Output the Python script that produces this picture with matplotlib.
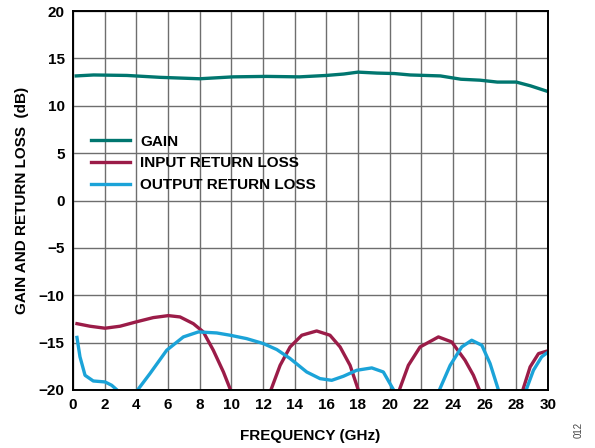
import numpy as np
import matplotlib.pyplot as plt

plt.rcParams['font.family'] = ['Liberation Sans', 'DejaVu Sans']

# Gain (dB) vs frequency (GHz)
gain_freq = [0.2, 1.3, 3.4, 5.5, 8.0, 10.1, 12.2, 14.3, 16.0, 17.1, 18.0, 19.2,
             20.3, 21.3, 23.2, 24.5, 25.7, 26.8, 28.0, 28.9, 30.0]
gain_db = [13.15, 13.25, 13.2, 13.0, 12.85, 13.05, 13.1, 13.05, 13.2, 13.35, 13.55, 13.45,
           13.4, 13.25, 13.15, 12.8, 12.7, 12.5, 12.5, 12.1, 11.5]

# Input return loss (dB), NaN separates the segments clipped at -20 dB
irl_freq = [0.25, 1.07, 2.02, 2.97, 4.02, 5.07, 6.02, 6.76, 7.6, 8.23, 8.86, 9.5, 9.95, 10.05,
            np.nan,
            12.45, 12.5, 13.08, 13.71, 14.45, 15.39, 16.23, 16.87, 17.5, 18.02, 18.08,
            np.nan,
            20.55, 20.61, 21.18, 21.92, 23.08, 23.92, 24.76, 25.29, 25.67, 25.72,
            np.nan,
            28.36, 28.41, 28.87, 29.4, 29.92, 30.0]
irl_db = [-13.0, -13.27, -13.48, -13.27, -12.8, -12.36, -12.15, -12.29, -13.0, -13.87, -15.8, -18.1, -20.0, -20.4,
          np.nan,
          -20.4, -20.0, -17.4, -15.46, -14.22, -13.77, -14.22, -15.46, -17.4, -20.0, -20.4,
          np.nan,
          -20.4, -20.0, -17.4, -15.46, -14.4, -14.93, -16.86, -18.45, -20.0, -20.4,
          np.nan,
          -20.4, -20.0, -17.57, -16.16, -15.9, -15.9]

# Output return loss (dB)
orl_freq = [0.25, 0.44, 0.76, 1.28, 2.02, 2.44, 2.78, 2.85,
            np.nan,
            4.0, 4.08, 4.86, 5.92, 6.97, 7.92, 9.08, 9.92, 10.97, 12.02, 12.87, 13.71,
            14.76, 15.6, 16.34, 17.08, 17.92, 18.87, 19.6, 20.25, 20.33,
            np.nan,
            23.08, 23.14, 23.82, 24.55, 25.18, 25.82, 26.34, 26.87, 26.93,
            np.nan,
            28.56, 28.62, 29.08, 29.6, 29.92, 30.0]
orl_db = [-14.45, -16.5, -18.45, -19.05, -19.15, -19.5, -20.0, -20.4,
          np.nan,
          -20.4, -20.0, -18.27, -15.8, -14.4, -13.87, -13.98, -14.22, -14.58, -15.1, -15.73, -16.68,
          -18.1, -18.8, -18.98, -18.55, -17.92, -17.67, -18.1, -20.0, -20.4,
          np.nan,
          -20.4, -20.0, -17.4, -15.46, -14.75, -15.28, -17.2, -20.0, -20.4,
          np.nan,
          -20.4, -20.0, -17.92, -16.5, -16.1, -16.05]

fig = plt.figure(figsize=(5.95, 4.48), dpi=100)
ax = fig.add_axes([0.1227, 0.1295, 0.7983, 0.8459])

ax.plot(gain_freq, gain_db, color='#00766f', lw=2.4, label='GAIN')
ax.plot(irl_freq, irl_db, color='#9b1c48', lw=2.4, label='INPUT RETURN LOSS')
ax.plot(orl_freq, orl_db, color='#1ba3d8', lw=2.4, label='OUTPUT RETURN LOSS')

ax.set_xlim(0, 30)
ax.set_ylim(-20, 20)
ax.set_xticks(range(0, 31, 2))
ax.set_yticks(range(-20, 21, 5))
ax.grid(True, color='#6e6e6e', lw=1.0)
ax.tick_params(length=0, labelsize=11, pad=6)
for lbl in ax.get_xticklabels() + ax.get_yticklabels():
    lbl.set_fontweight('bold')
for sp in ax.spines.values():
    sp.set_linewidth(1.4)
    sp.set_color('black')

ax.set_xlabel('FREQUENCY (GHz)', fontsize=11, fontweight='bold', labelpad=12)
ax.set_ylabel('GAIN AND RETURN LOSS  (dB)', fontsize=11, fontweight='bold', labelpad=7)

leg = ax.legend(loc='upper left', bbox_to_anchor=(0.008, 0.71), frameon=False,
                fontsize=11, handlelength=2.6, handletextpad=0.65, labelspacing=0.5)
for t in leg.get_texts():
    t.set_fontweight('bold')

fig.text(0.972, 0.04, '012', rotation=90, fontsize=7, color='#444444',
         ha='center', va='center')

fig.savefig('out.png', dpi=100)
